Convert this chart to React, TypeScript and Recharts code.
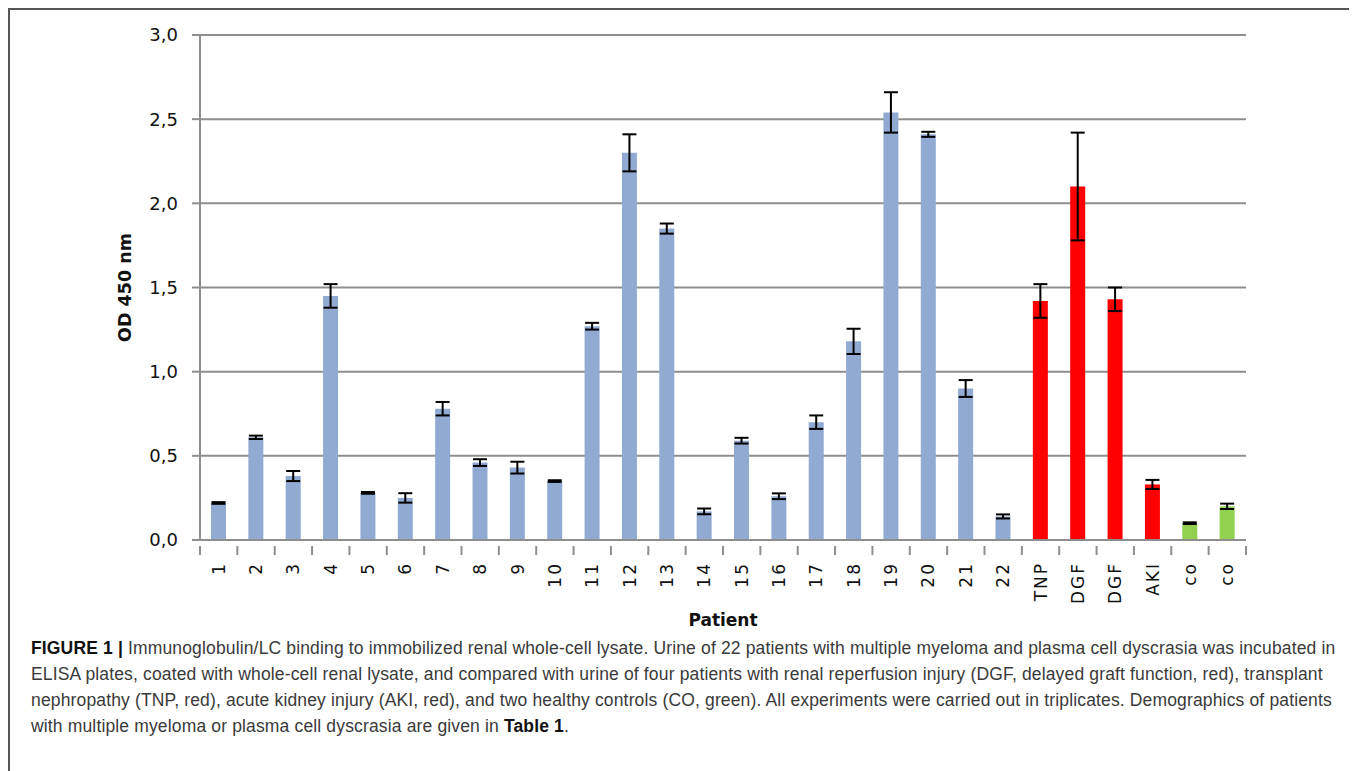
import React from "react";
import { Bar, BarChart, CartesianGrid, Cell, ErrorBar, Label, XAxis, YAxis } from "recharts";

const categories = [
  "1", "2", "3", "4", "5", "6", "7", "8", "9", "10", "11", "12", "13", "14",
  "15", "16", "17", "18", "19", "20", "21", "22", "TNP", "DGF", "DGF", "AKI", "co", "co",
];
const odValues = [
  0.22, 0.61, 0.38, 1.45, 0.28, 0.25, 0.78, 0.46, 0.43, 0.35, 1.27, 2.3, 1.85, 0.17,
  0.59, 0.26, 0.7, 1.18, 2.54, 2.41, 0.9, 0.14, 1.42, 2.1, 1.43, 0.33, 0.1, 0.2,
];
const odErrors = [
  0.005, 0.01, 0.03, 0.07, 0.005, 0.028, 0.04, 0.02, 0.035, 0.005, 0.02, 0.11, 0.03, 0.017,
  0.017, 0.017, 0.04, 0.075, 0.12, 0.015, 0.05, 0.012, 0.1, 0.32, 0.07, 0.027, 0.005, 0.016,
];
const groups = [
  "pt", "pt", "pt", "pt", "pt", "pt", "pt", "pt", "pt", "pt", "pt", "pt", "pt", "pt",
  "pt", "pt", "pt", "pt", "pt", "pt", "pt", "pt", "renal", "renal", "renal", "renal", "co", "co",
];
const yTicks = [0, 0.5, 1, 1.5, 2, 2.5, 3];

const groupColors: Record<string, string> = { pt: "#91AAD2", renal: "#FF0000", co: "#92D050" };

const data = categories.map((name, i) => ({
  name,
  od: odValues[i],
  err: odErrors[i],
  group: groups[i],
}));

const AXIS_GREY = "#8e8e8e";

function PatientTick(props: any) {
  const { x, y, payload, index, visibleTicksCount } = props;
  const half = payload.offset ?? 18.68;
  return (
    <g>
      <line x1={x - half} y1={y - 2} x2={x - half} y2={y + 7} stroke={AXIS_GREY} strokeWidth={2} />
      {index === visibleTicksCount - 1 && (
        <line x1={x + half} y1={y - 2} x2={x + half} y2={y + 7} stroke={AXIS_GREY} strokeWidth={2} />
      )}
      <text
        x={x}
        y={y + 14}
        transform={`rotate(-90 ${x} ${y + 14})`}
        textAnchor="end"
        dominantBaseline="central"
        fontFamily="DejaVu Sans"
        fontSize={17}
        letterSpacing={2}
        fill="#111"
      >
        {payload.value}
      </text>
    </g>
  );
}

export default function App() {
  return (
    <div
      style={{
        position: "relative",
        width: 1348,
        height: 780,
        boxSizing: "border-box",
        border: "2px solid #555",
        background: "#fff",
      }}
    >
      <div style={{ position: "absolute", left: 0, top: 0 }}>
        <BarChart
          width={1300}
          height={630}
          data={data}
          margin={{ top: 25, right: 64, bottom: 10, left: 0 }}
          barSize={15}
        >
          <CartesianGrid vertical={false} stroke={AXIS_GREY} strokeWidth={2} />
          <XAxis
            dataKey="name"
            height={90}
            interval={0}
            tickLine={false}
            axisLine={{ stroke: AXIS_GREY, strokeWidth: 2 }}
            tick={<PatientTick />}
          >
            <Label
              content={({ viewBox }: any) => (
                <text
                  x={viewBox.x + viewBox.width / 2}
                  y={viewBox.y + 80}
                  textAnchor="middle"
                  dominantBaseline="central"
                  fontFamily="DejaVu Sans"
                  fontWeight="bold"
                  fontSize={17}
                  fill="#111"
                >
                  Patient
                </text>
              )}
            />
          </XAxis>
          <YAxis
            width={190}
            domain={[0, 3]}
            ticks={yTicks}
            interval={0}
            tickSize={8}
            tickMargin={14}
            tickFormatter={(v: number) => v.toFixed(1).replace(".", ",")}
            tickLine={{ stroke: AXIS_GREY, strokeWidth: 2 }}
            axisLine={{ stroke: AXIS_GREY, strokeWidth: 2 }}
            tick={{ fontFamily: "DejaVu Sans", fontSize: 18, fill: "#111" }}
          >
            <Label
              content={({ viewBox }: any) => {
                const cx = viewBox.x + 115;
                const cy = viewBox.y + viewBox.height / 2;
                return (
                  <text
                    x={cx}
                    y={cy}
                    transform={`rotate(-90 ${cx} ${cy})`}
                    textAnchor="middle"
                    dominantBaseline="central"
                    fontFamily="DejaVu Sans"
                    fontWeight="bold"
                    fontSize={17.5}
                    fill="#111"
                  >
                    OD 450 nm
                  </text>
                );
              }}
            />
          </YAxis>
          <Bar dataKey="od" isAnimationActive={false}>
            {data.map((d, i) => (
              <Cell key={i} fill={groupColors[d.group]} />
            ))}
            <ErrorBar dataKey="err" direction="y" width={7} stroke="#000" strokeWidth={2} />
          </Bar>
        </BarChart>
      </div>
      <div
        style={{
          position: "absolute",
          left: 21,
          top: 625,
          fontFamily: "Liberation Sans",
          fontSize: 17.5,
          letterSpacing: 0.15,
          lineHeight: "26px",
          color: "#3a3a3a",
          whiteSpace: "nowrap",
        }}
      >
        <div>
          <b style={{ color: "#111" }}>FIGURE 1 |</b> Immunoglobulin/LC binding to immobilized renal whole-cell lysate.
          Urine of 22 patients with multiple myeloma and plasma cell dyscrasia was incubated in
        </div>
        <div>
          ELISA plates, coated with whole-cell renal lysate, and compared with urine of four patients with renal
          reperfusion injury (DGF, delayed graft function, red), transplant
        </div>
        <div>
          nephropathy (TNP, red), acute kidney injury (AKI, red), and two healthy controls (CO, green). All experiments
          were carried out in triplicates. Demographics of patients
        </div>
        <div>
          with multiple myeloma or plasma cell dyscrasia are given in <b style={{ color: "#111" }}>Table 1</b>.
        </div>
      </div>
    </div>
  );
}
